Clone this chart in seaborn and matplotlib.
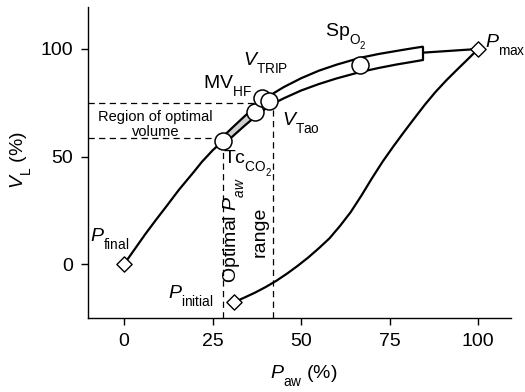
import numpy as np
import pandas as pd
import matplotlib
matplotlib.use("Agg")
import matplotlib.pyplot as plt
import seaborn as sns

# ---------------- data ----------------
# deflation limb, single line from P_final up to Tc_CO2
defl_x = [0, 3, 6, 9, 12, 15.5, 19.5, 22, 25, 28]
defl_y = [0, 7, 14, 20.6, 27, 34.6, 42.5, 47.6, 52.9, 57.4]

# band part of the deflation limb (upper / lower edges)
band_x = [28, 31, 34, 37, 41, 45, 50, 55, 60, 66.7, 72, 77, 81, 84.5]
band_up = [59.4, 64.1, 68.7, 73.1, 78.2, 82.2, 86.4, 89.9, 92.7, 95.9, 97.7, 99.1, 100.2, 101.1]
band_lo = [55.4, 59.9, 64.3, 68.5, 73.6, 77.0, 80.7, 83.7, 86.3, 89.3, 91.2, 92.8, 93.9, 94.9]
gray_end = 41

# tail from band end to P_max
tail_x = [84.5, 100]
tail_y = [98.3, 100]

# inflation limb
infl_x = [31, 34, 37, 40, 43, 46, 49, 52, 55, 58, 61, 64, 67, 70, 73, 76, 79, 82, 85, 88, 91, 94, 97, 100]
infl_y = [-17.7, -15.5, -13.2, -10.6, -7.7, -4.4, -0.8, 3.1, 7.4, 12, 17.8, 24.2, 31.8, 39.9, 47.6, 54.6, 61.3, 67.8, 74.2, 80.1, 85.4, 90.3, 95.1, 100]

# diamonds (pressure end points)
dia_names = ["P_final", "P_initial", "P_max"]
dia_x = [0, 31, 100]
dia_y = [0, -17.7, 100]

# circles (markers on the deflation limb)
circ_names = ["Tc_CO2", "MV_HF", "V_TRIP", "V_Tao", "Sp_O2"]
circ_x = [28, 37, 39, 41, 66.7]
circ_y = [57.4, 70.8, 77, 76, 92.6]

# optimal region
opt_vol = [58.6, 74.9]
opt_paw = [28, 42]

x_ticks = [0, 25, 50, 75, 100]
y_ticks = [0, 50, 100]

# ---------------- style ----------------
sns.set_theme(style="ticks")
plt.rcParams["font.family"] = ["Liberation Sans", "DejaVu Sans"]
plt.rcParams["mathtext.fontset"] = "custom"
plt.rcParams["mathtext.rm"] = "Liberation Sans"
plt.rcParams["mathtext.it"] = "Liberation Sans:italic"
plt.rcParams["mathtext.bf"] = "Liberation Sans:bold"
plt.rcParams["text.color"] = "black"
plt.rcParams["axes.labelcolor"] = "black"

# subscripts in the reference sit lower than mathtext's default
try:
    import matplotlib._mathtext as _mt
    _mt.FontConstantsBase.sub1 = 0.8
    _mt.FontConstantsBase.sub2 = 0.8
except Exception:
    pass

fig = plt.figure(figsize=(5.25, 3.92), dpi=100)
ax = fig.add_axes([88 / 525, 1 - 318 / 392, (510.7 - 88) / 525, (318 - 7) / 392])
ax.set_xlim(-10.2, 109.2)
ax.set_ylim(-25, 119.5)

lw = 1.6
# dashed guides
dash = dict(color="black", lw=0.9, ls=(0, (5, 3.5)), zorder=1)
ax.plot([-10.2, opt_paw[0]], [opt_vol[0], opt_vol[0]], **dash)
ax.plot([-10.2, opt_paw[1]], [opt_vol[1], opt_vol[1]], **dash)
ax.plot([opt_paw[0], opt_paw[0]], [-25, opt_vol[0]], **dash)
ax.plot([opt_paw[1], opt_paw[1]], [-25, opt_vol[1]], **dash)

# limbs
sns.lineplot(x=defl_x, y=defl_y, sort=False, estimator=None, color="black", lw=lw, ax=ax, zorder=3)
sns.lineplot(x=infl_x, y=infl_y, sort=False, estimator=None, color="black", lw=lw, ax=ax, zorder=3)
sns.lineplot(x=tail_x, y=tail_y, sort=False, estimator=None, color="black", lw=lw, ax=ax, zorder=3)

bx = np.array(band_x)
bu = np.array(band_up)
bl = np.array(band_lo)
ax.fill_between(bx, bl, bu, where=bx <= gray_end, interpolate=True, color="#cfcfcf", lw=0, zorder=2)
ax.fill_between(bx, bl, bu, where=bx >= gray_end, interpolate=True, color="white", lw=0, zorder=2)
ax.plot(bx, bu, color="black", lw=lw, zorder=3, solid_capstyle="butt")
ax.plot(bx, bl, color="black", lw=lw, zorder=3, solid_capstyle="butt")
ax.plot([bx[-1], bx[-1]], [bl[-1], bu[-1]], color="black", lw=lw, zorder=3)

# markers
sns.scatterplot(x=circ_x, y=circ_y, marker="o", s=150, facecolor="white",
                edgecolor="black", linewidth=1.1, ax=ax, zorder=5)
sns.scatterplot(x=dia_x, y=dia_y, marker="D", s=60, facecolor="white",
                edgecolor="black", linewidth=1.0, ax=ax, zorder=5)

fs = 14
ax.text(-9.6, 11, r"$\mathit{P}_{\mathrm{final}}$", fontsize=fs, ha="left", va="baseline")
ax.text(12.4, -15.8, r"$\mathit{P}_{\mathrm{initial}}$", fontsize=fs, ha="left", va="baseline")
ax.text(102, 101, r"$\mathit{P}_{\mathrm{max}}$", fontsize=fs, ha="left", va="baseline", clip_on=False)
ax.text(56.8, 105.8, r"$\mathrm{Sp}_{\mathrm{O}_2}$", fontsize=fs, ha="left", va="baseline")
ax.text(22.3, 81.8, r"$\mathrm{MV}_{\mathrm{HF}}$", fontsize=fs, ha="left", va="baseline")
ax.text(33.6, 92.5, r"$\mathit{V}_{\mathrm{TRIP}}$", fontsize=fs, ha="left", va="baseline")
ax.text(44.6, 64.7, r"$\mathit{V}_{\mathrm{Tao}}$", fontsize=fs, ha="left", va="baseline")
ax.text(28, 47, r"$\mathrm{Tc}_{\mathrm{CO}_2}$", fontsize=fs, ha="left", va="baseline")
ax.text(8.9, 65.1, "Region of optimal\nvolume", fontsize=10.5, ha="center", va="center", linespacing=1.1)
ax.text(30.8, 16, r"Optimal $\mathit{P}_{\mathit{aw}}$", fontsize=fs, ha="center", va="center", rotation=90)
ax.text(38.4, 15, "range", fontsize=fs, ha="center", va="center", rotation=90)

ax.set_xticks(x_ticks)
ax.set_yticks(y_ticks)
ax.tick_params(axis="both", labelsize=fs, length=5, width=1, direction="out",
               color="black", labelcolor="black", pad=6)
ax.set_xlabel(r"$\mathit{P}_{\mathrm{aw}}$ (%)", fontsize=fs)
ax.set_ylabel(r"$\mathit{V}_{\mathrm{L}}$ (%)", fontsize=fs)
ax.xaxis.set_label_coords(0.511, -0.145)
ax.yaxis.set_label_coords(-0.13, 0.508)
for s in ["top", "right"]:
    ax.spines[s].set_visible(False)
for s in ["left", "bottom"]:
    ax.spines[s].set_color("black")
    ax.spines[s].set_linewidth(1.0)

fig.savefig("out.png", dpi=100)
